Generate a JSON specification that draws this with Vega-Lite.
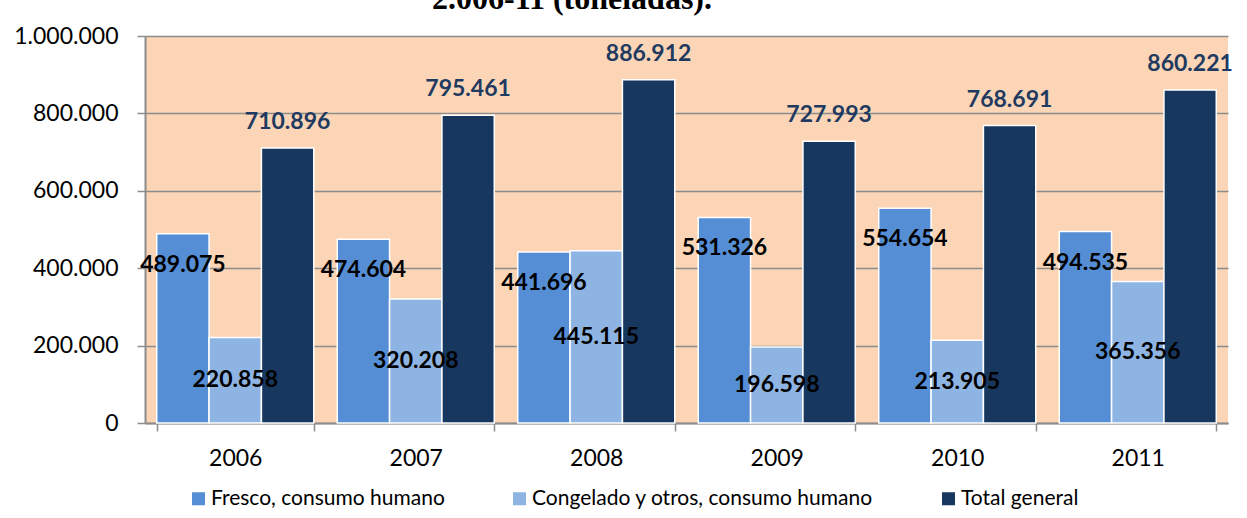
{
  "$schema": "https://vega.github.io/schema/vega-lite/v6.json",
  "width": 1083,
  "height": 387,
  "autosize": {"type": "none"},
  "padding": {"left": 145, "top": 36, "right": 19, "bottom": 95},
  "background": "white",
  "title": {
    "text": "2.006-11 (toneladas).",
    "font": "Liberation Serif",
    "fontSize": 32,
    "fontWeight": "bold",
    "color": "black",
    "frame": "group",
    "anchor": "start",
    "dx": 287,
    "offset": 9
  },
  "data": {
    "values": [
      {"year": "2006", "serie": "Fresco, consumo humano", "value": 489075},
      {"year": "2006", "serie": "Congelado y otros, consumo humano", "value": 220858},
      {"year": "2006", "serie": "Total general", "value": 710896},
      {"year": "2007", "serie": "Fresco, consumo humano", "value": 474604},
      {"year": "2007", "serie": "Congelado y otros, consumo humano", "value": 320208},
      {"year": "2007", "serie": "Total general", "value": 795461},
      {"year": "2008", "serie": "Fresco, consumo humano", "value": 441696},
      {"year": "2008", "serie": "Congelado y otros, consumo humano", "value": 445115},
      {"year": "2008", "serie": "Total general", "value": 886912},
      {"year": "2009", "serie": "Fresco, consumo humano", "value": 531326},
      {"year": "2009", "serie": "Congelado y otros, consumo humano", "value": 196598},
      {"year": "2009", "serie": "Total general", "value": 727993},
      {"year": "2010", "serie": "Fresco, consumo humano", "value": 554654},
      {"year": "2010", "serie": "Congelado y otros, consumo humano", "value": 213905},
      {"year": "2010", "serie": "Total general", "value": 768691},
      {"year": "2011", "serie": "Fresco, consumo humano", "value": 494535},
      {"year": "2011", "serie": "Congelado y otros, consumo humano", "value": 365356},
      {"year": "2011", "serie": "Total general", "value": 860221}
    ]
  },
  "encoding": {
    "x": {
      "field": "year",
      "type": "nominal",
      "scale": {"paddingInner": 0.13, "paddingOuter": 0.065},
      "axis": {
        "title": null,
        "labelAngle": 0,
        "labelFont": "Lato",
        "labelFontSize": 23,
        "labelColor": "black",
        "labelPadding": 16,
        "tickBand": "extent",
        "tickSize": 8,
        "tickColor": "#8C8C8C",
        "tickWidth": 1.5,
        "domainColor": "#8C8C8C",
        "domainWidth": 2
      }
    },
    "xOffset": {
      "field": "serie",
      "type": "nominal",
      "sort": ["Fresco, consumo humano", "Congelado y otros, consumo humano", "Total general"],
      "scale": {"paddingInner": 0, "paddingOuter": 0}
    },
    "y": {
      "field": "value",
      "type": "quantitative",
      "scale": {"domain": [0, 1000000], "nice": false},
      "axis": {
        "title": null,
        "values": [0, 200000, 400000, 600000, 800000, 1000000],
        "format": ",d",
        "labelFont": "Lato",
        "labelFontSize": 23,
        "labelColor": "black",
        "labelPadding": 19,
        "tickSize": 8,
        "tickColor": "#8C8C8C",
        "tickWidth": 1.5,
        "domainColor": "#8C8C8C",
        "domainWidth": 2,
        "grid": true,
        "gridColor": "#8C8C8C",
        "gridWidth": 1.5
      }
    }
  },
  "layer": [
    {
      "mark": {"type": "bar", "stroke": "white", "strokeWidth": 1.5},
      "encoding": {
        "color": {
          "field": "serie",
          "type": "nominal",
          "sort": ["Fresco, consumo humano", "Congelado y otros, consumo humano", "Total general"],
          "scale": {
            "domain": ["Fresco, consumo humano", "Congelado y otros, consumo humano", "Total general"],
            "range": ["#558ED5", "#8EB4E3", "#17375E"]
          },
          "legend": {
            "title": null,
            "orient": "none",
            "direction": "horizontal",
            "legendX": 43,
            "legendY": 452,
            "symbolType": "square",
            "symbolSize": 169,
            "symbolStrokeWidth": 0,
            "labelFont": "Lato",
            "labelFontSize": 21,
            "labelColor": "black",
            "labelLimit": 600,
            "labelOffset": 2,
            "columnPadding": 64
          }
        }
      }
    },
    {
      "transform": [{"filter": "datum.serie == 'Fresco, consumo humano'"}],
      "mark": {"type": "text", "font": "Lato", "fontSize": 23, "fontWeight": "bold", "color": "black", "baseline": "middle", "dy": 31},
      "encoding": {"text": {"field": "value", "type": "quantitative", "format": ","}}
    },
    {
      "transform": [
        {"filter": "datum.serie == 'Congelado y otros, consumo humano'"},
        {"calculate": "datum.value / 2", "as": "mid"}
      ],
      "mark": {"type": "text", "font": "Lato", "fontSize": 23, "fontWeight": "bold", "color": "black", "baseline": "middle"},
      "encoding": {
        "y": {"field": "mid", "type": "quantitative"},
        "text": {"field": "value", "type": "quantitative", "format": ","}
      }
    },
    {
      "transform": [{"filter": "datum.serie == 'Total general'"}],
      "mark": {"type": "text", "font": "Lato", "fontSize": 23, "fontWeight": "bold", "color": "#1F3A60", "baseline": "middle", "dy": -26},
      "encoding": {"text": {"field": "value", "type": "quantitative", "format": ","}}
    }
  ],
  "config": {
    "locale": {"number": {"decimal": ",", "thousands": ".", "grouping": [3], "currency": ["", ""]}},
    "view": {"fill": "#FBD5B5", "stroke": null}
  }
}
